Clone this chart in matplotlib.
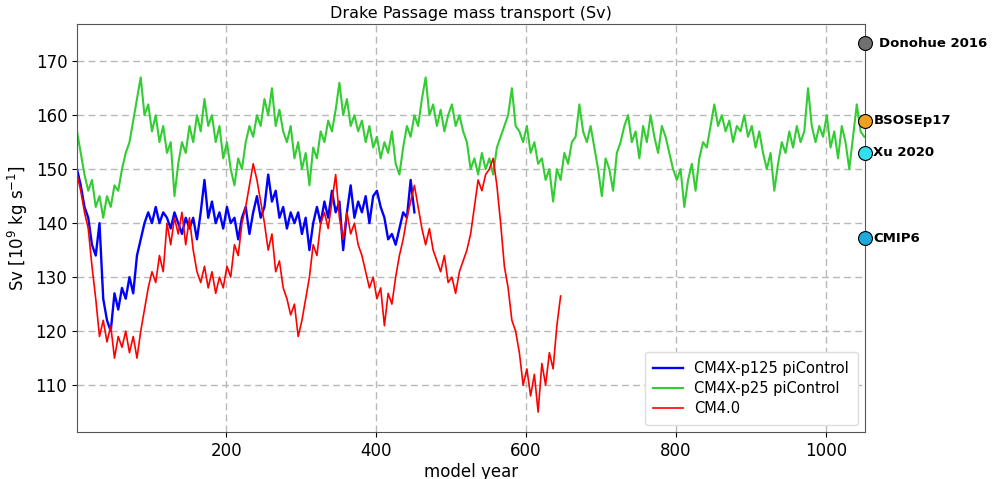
import numpy as np
import matplotlib
matplotlib.use("Agg")
import matplotlib.pyplot as plt

# ======================================
# DATOS (cada 5 anios)
# ======================================

paso = 5

verde_p25 = [
    157, 153, 149, 146, 148, 143, 145, 141, 145, 143, 147, 146, 150, 153, 155, 159, 163, 167, 160, 162,
    157, 160, 155, 158, 153, 155, 145, 151, 155, 153, 158, 155, 160, 157, 163, 158, 160, 155, 158, 152,
    155, 150, 147, 152, 150, 155, 158, 156, 160, 158, 163, 160, 165, 158, 161, 157, 155, 158, 152, 155,
    150, 153, 147, 154, 152, 157, 155, 159, 157, 161, 166, 160, 163, 158, 160, 157, 159, 155, 158, 154,
    156, 152, 155, 153, 157, 151, 149, 154, 158, 156, 160, 158, 163, 167, 160, 162, 158, 161, 157, 160,
    162, 158, 160, 157, 155, 150, 152, 149, 153, 150, 152, 149, 154, 156, 158, 160, 165, 158, 157, 155,
    158, 153, 155, 151, 152, 148, 150, 144, 150, 148, 153, 151, 155, 156, 162, 157, 155, 158, 154, 150,
    145, 152, 150, 146, 153, 155, 158, 160, 155, 157, 152, 158, 155, 160, 156, 153, 158, 156, 153, 150,
    148, 150, 143, 148, 151, 146, 152, 155, 154, 158, 162, 158, 160, 157, 159, 155, 158, 157, 160, 156,
    158, 154, 157, 153, 150, 153, 146, 151, 155, 153, 157, 154, 158, 155, 157, 165, 158, 155, 158, 156,
    160, 154, 157, 152, 158, 155, 150, 156, 162, 157, 156,
]

azul_p125 = [
    150, 147, 143, 141, 136, 134, 140, 126, 122, 120, 127, 124, 128, 126, 130, 127, 134, 137, 140, 142,
    140, 143, 140, 142, 141, 139, 142, 140, 138, 141, 139, 141, 137, 142, 148, 141, 144, 140, 142, 139,
    143, 140, 141, 137, 141, 143, 138, 142, 145, 141, 143, 149, 144, 146, 141, 143, 139, 142, 140, 142,
    138, 141, 135, 140, 143, 140, 144, 141, 146, 142, 144, 135, 142, 147, 141, 144, 142, 145, 140, 145,
    146, 143, 141, 137, 138, 136, 139, 142, 141, 148, 142,
]

rojo_cm4 = [
    149, 146, 142, 139, 132, 126, 119, 122, 118, 121, 115, 119, 117, 120, 116, 119, 115, 120, 124, 128,
    131, 129, 134, 131, 140, 136, 141, 138, 142, 136, 141, 135, 131, 129, 132, 128, 131, 127, 130, 128,
    132, 130, 136, 134, 140, 143, 147, 151, 148, 144, 140, 135, 138, 131, 133, 128, 126, 123, 125, 119,
    122, 126, 130, 136, 134, 140, 142, 139, 144, 149, 141, 137, 142, 138, 140, 136, 134, 131, 128, 130,
    126, 128, 121, 127, 125, 130, 134, 137, 141, 144, 147, 143, 139, 136, 139, 135, 133, 131, 134, 129,
    130, 127, 131, 133, 135, 138, 143, 148, 146, 149, 150, 152, 147, 140, 132, 128, 122, 120, 116, 110,
    113, 108, 112, 105, 114, 110, 116, 113, 121, 126.5,
]

series = [
    ("CM4X-p125 piControl", azul_p125, "blue", 1.7),
    ("CM4X-p25 piControl", verde_p25, "#33cc33", 1.5),
    ("CM4.0", rojo_cm4, "red", 1.2),
]

# observaciones / referencias
obs_nombres = ["Donohue 2016", "BSOSEp17", "Xu 2020", "CMIP6"]
obs_valores = [173.3, 159.0, 153.0, 137.2]
obs_colores = ["#707070", "#f0a020", "#30e0f0", "#1eaadc"]

# ======================================
# FIGURA
# ======================================

fig = plt.figure(figsize=(9.96, 4.79), dpi=100)
ax = fig.add_axes([0.0773, 0.098, 0.7912, 0.852])

for nombre, valores, color, grosor in series:
    anios = np.arange(len(valores)) * paso + 1
    ax.plot(anios, valores, color=color, linewidth=grosor, label=nombre)

x_obs = 1052
for nombre, valor, color in zip(obs_nombres, obs_valores, obs_colores):
    ax.plot(x_obs, valor, "o", markersize=10, markerfacecolor=color,
            markeredgecolor="black", markeredgewidth=0.8, clip_on=False, zorder=5)
    desp = 10 if nombre == "Donohue 2016" else 6
    ax.annotate(nombre, (x_obs, valor), xytext=(desp, 0), textcoords="offset points",
                va="center", ha="left", fontsize=9.5, fontweight="bold",
                annotation_clip=False)

ax.set_xlim(1, 1052)
ax.set_ylim(101.3, 176.9)
ax.set_xticks([200, 400, 600, 800, 1000])
ax.set_yticks([110, 120, 130, 140, 150, 160, 170])
ax.tick_params(labelsize=12)
ax.grid(True, linestyle=(0, (5, 3)), color="#b8b8b8", linewidth=1.0)

ax.set_title("Drake Passage mass transport (Sv)", fontsize=11.5, pad=4)
ax.set_xlabel("model year", fontsize=12, labelpad=2)
ax.set_ylabel("Sv [$10^9$ kg s$^{-1}$]", fontsize=12, labelpad=4)

leyenda = ax.legend(loc="lower right", fontsize=10.5, framealpha=1.0, borderpad=0.6,
                    handlelength=2.0, labelspacing=0.35)
leyenda.get_frame().set_edgecolor("#dddddd")

for s in ax.spines.values():
    s.set_color("#555555")

fig.savefig("out.png", dpi=100)
